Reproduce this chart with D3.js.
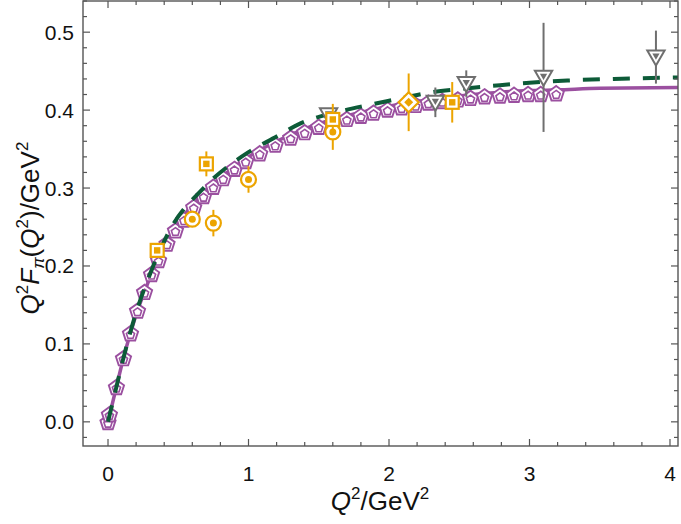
<!DOCTYPE html>
<html>
<head>
<meta charset="utf-8">
<script src="https://cdn.jsdelivr.net/npm/d3@7"></script>
<style>
  body { margin: 0; background: #fff; }
  svg { font-family: "Liberation Sans", Arial, sans-serif; }
</style>
</head>
<body>
<svg id="chart"></svg>
<script>
const width = 681;
const height = 524;

// purple solid curve
const purpleX = [0, 0.06, 0.11, 0.16, 0.21, 0.26, 0.31, 0.36, 0.44, 0.5, 0.6, 0.68, 0.8, 1.0, 1.2, 1.4, 1.6, 1.8, 2.0, 2.2, 2.4, 2.6, 2.8, 3.0, 3.2, 3.5, 4.1];
const purpleY = [0, 0.045, 0.082, 0.114, 0.143, 0.167, 0.19, 0.208, 0.238, 0.255, 0.278, 0.294, 0.313, 0.340, 0.360, 0.376, 0.388, 0.397, 0.405, 0.411, 0.416, 0.420, 0.423, 0.425, 0.426, 0.428, 0.429];

// green dashed curve
const greenX = [0, 0.06, 0.11, 0.2, 0.3, 0.44, 0.68, 1.0, 1.2, 1.37, 1.6, 1.84, 2.0, 2.31, 2.5, 2.79, 3.0, 3.27, 3.6, 4.1];
const greenY = [0, 0.045, 0.082, 0.14, 0.19, 0.246, 0.300, 0.346, 0.366, 0.383, 0.396, 0.406, 0.412, 0.423, 0.427, 0.432, 0.435, 0.438, 0.440, 0.442];

// pentagon markers
const pentX = [0, 0.01, 0.06, 0.11, 0.16, 0.21, 0.26, 0.31, 0.36, 0.42, 0.48, 0.54, 0.61, 0.68, 0.75, 0.82, 0.9, 0.98, 1.08, 1.19, 1.3, 1.4, 1.5, 1.6, 1.7, 1.8, 1.89, 1.99, 2.09, 2.19, 2.28, 2.38, 2.49, 2.58, 2.68, 2.79, 2.89, 2.99, 3.08, 3.19];
const pentY = [0, 0.01, 0.045, 0.082, 0.114, 0.143, 0.167, 0.19, 0.208, 0.229, 0.246, 0.26, 0.276, 0.29, 0.302, 0.313, 0.325, 0.335, 0.345, 0.356, 0.365, 0.372, 0.379, 0.384, 0.389, 0.393, 0.397, 0.401, 0.404, 0.407, 0.41, 0.412, 0.414, 0.416, 0.418, 0.419, 0.42, 0.421, 0.421, 0.422];

// orange circles
const circX = [0.6, 0.75, 1.0, 1.6];
const circY = [0.26, 0.255, 0.311, 0.372];
const circErr = [0.006, 0.017, 0.017, 0.023];

// orange squares
const sqX = [0.35, 0.7, 1.6, 2.45];
const sqY = [0.22, 0.331, 0.388, 0.41];
const sqErr = [0.005, 0.016, 0.02, 0.026];

// orange diamond
const diaX = [2.14];
const diaY = [0.41];
const diaErr = [0.037];

// grey triangles
const triX = [1.57, 2.33, 2.55, 3.1, 3.9];
const triY = [0.394, 0.41, 0.434, 0.442, 0.468];
const triErr = [0.004, 0.019, 0.017, 0.07, 0.034];

const xTicks = [0, 1, 2, 3, 4];
const yTicks = [0.0, 0.1, 0.2, 0.3, 0.4, 0.5];

const purple = "#9b50a0";
const green = "#0d5b38";
const orange = "#eca400";
const grey = "#6f6f6f";
const frameColor = "#555";

const svg = d3.select("#chart").attr("width", width).attr("height", height);

const x = d3.scaleLinear().domain([-0.178, 4.057]).range([83, 678]);
const y = d3.scaleLinear().domain([-0.031, 0.540]).range([446, 1]);

svg.append("clipPath").attr("id", "clip")
  .append("rect").attr("x", 83).attr("y", 1).attr("width", 595).attr("height", 445);

const plot = svg.append("g").attr("clip-path", "url(#clip)");

const line = d3.line().x(d => x(d[0])).y(d => y(d[1])).curve(d3.curveMonotoneX);

// purple line
plot.append("path")
  .attr("d", line(d3.zip(purpleX, purpleY)))
  .attr("fill", "none").attr("stroke", purple).attr("stroke-width", 3.5);

// pentagons
function polygon(cx, cy, r, n, rot) {
  const pts = d3.range(n).map(k => {
    const a = rot + k * 2 * Math.PI / n;
    return [cx + r * Math.cos(a), cy + r * Math.sin(a)];
  });
  return "M" + pts.map(p => p.join(",")).join("L") + "Z";
}

const pent = plot.selectAll(".pent").data(d3.zip(pentX, pentY)).enter().append("g");
pent.append("path")
  .attr("d", d => polygon(x(d[0]), y(d[1]) + 1, 8, 5, -Math.PI / 2))
  .attr("fill", "#fff").attr("stroke", purple).attr("stroke-width", 1.9);
pent.append("path")
  .attr("d", d => polygon(x(d[0]), y(d[1]) + 1.8, 4.3, 5, -Math.PI / 2))
  .attr("fill", "none").attr("stroke", purple).attr("stroke-width", 1.6);

// green dashed
plot.append("path")
  .attr("d", line(d3.zip(greenX, greenY)))
  .attr("fill", "none").attr("stroke", green).attr("stroke-width", 4)
  .attr("stroke-dasharray", "17,13");

// error bars + markers
function errorBars(xs, ys, es, color) {
  plot.selectAll(null).data(d3.range(xs.length)).enter().append("line")
    .attr("x1", i => x(xs[i])).attr("x2", i => x(xs[i]))
    .attr("y1", i => y(ys[i] - es[i])).attr("y2", i => y(ys[i] + es[i]))
    .attr("stroke", color).attr("stroke-width", 2);
}

// triangles
errorBars(triX, triY, triErr, grey);
const tri = plot.selectAll(null).data(d3.zip(triX, triY)).enter().append("g");
tri.append("path")
  .attr("d", d => polygon(x(d[0]), y(d[1]) - 1.5, 10, 3, Math.PI / 2))
  .attr("fill", "#fff").attr("stroke", grey).attr("stroke-width", 2);
tri.append("path")
  .attr("d", d => polygon(x(d[0]), y(d[1]) - 1.5, 4.2, 3, Math.PI / 2))
  .attr("fill", grey);

// circles
errorBars(circX, circY, circErr, orange);
const circ = plot.selectAll(null).data(d3.zip(circX, circY)).enter().append("g");
circ.append("circle").attr("cx", d => x(d[0])).attr("cy", d => y(d[1])).attr("r", 7.5)
  .attr("fill", "#fff").attr("stroke", orange).attr("stroke-width", 2.2);
circ.append("circle").attr("cx", d => x(d[0])).attr("cy", d => y(d[1])).attr("r", 3.5)
  .attr("fill", orange);

// squares
errorBars(sqX, sqY, sqErr, orange);
const sq = plot.selectAll(null).data(d3.zip(sqX, sqY)).enter().append("g");
sq.append("rect").attr("x", d => x(d[0]) - 6.5).attr("y", d => y(d[1]) - 6.5)
  .attr("width", 13).attr("height", 13)
  .attr("fill", "#fff").attr("stroke", orange).attr("stroke-width", 2.2);
sq.append("rect").attr("x", d => x(d[0]) - 3.2).attr("y", d => y(d[1]) - 3.2)
  .attr("width", 6.4).attr("height", 6.4).attr("fill", orange);

// diamond
errorBars(diaX, diaY, diaErr, orange);
const dia = plot.selectAll(null).data(d3.zip(diaX, diaY)).enter().append("g");
dia.append("path").attr("d", d => polygon(x(d[0]), y(d[1]), 10, 4, 0))
  .attr("fill", "#fff").attr("stroke", orange).attr("stroke-width", 2.2);
dia.append("path").attr("d", d => polygon(x(d[0]), y(d[1]), 4.5, 4, 0))
  .attr("fill", orange);

// frame and ticks
const xMinor = d3.range(-0.0, 4.05, 0.2);
const yMinor = d3.range(-0.02, 0.541, 0.02);

const axes = svg.append("g").attr("stroke", frameColor);
axes.append("rect").attr("x", 83).attr("y", 1).attr("width", 595).attr("height", 445)
  .attr("fill", "none").attr("stroke-width", 1.4);

xMinor.forEach(v => {
  const major = Math.abs(v - Math.round(v)) < 1e-6;
  const len = major ? 7 : 4;
  axes.append("line").attr("x1", x(v)).attr("x2", x(v)).attr("y1", 446).attr("y2", 446 - len).attr("stroke-width", 1.2);
  axes.append("line").attr("x1", x(v)).attr("x2", x(v)).attr("y1", 1).attr("y2", 1 + len).attr("stroke-width", 1.2);
});
yMinor.forEach(v => {
  const major = Math.abs(v * 10 - Math.round(v * 10)) < 1e-6;
  const len = major ? 7 : 4;
  axes.append("line").attr("x1", 83).attr("x2", 83 + len).attr("y1", y(v)).attr("y2", y(v)).attr("stroke-width", 1.2);
  axes.append("line").attr("x1", 678).attr("x2", 678 - len).attr("y1", y(v)).attr("y2", y(v)).attr("stroke-width", 1.2);
});

svg.selectAll(".xt").data(xTicks).enter().append("text")
  .attr("x", d => x(d)).attr("y", 481)
  .attr("text-anchor", "middle").attr("font-size", 21).attr("fill", "#111")
  .text(d => d);

svg.selectAll(".yt").data(yTicks).enter().append("text")
  .attr("x", 74).attr("y", d => y(d) + 7.5)
  .attr("text-anchor", "end").attr("font-size", 21).attr("fill", "#111")
  .text(d => d3.format(".1f")(d));

// axis titles
const xl = svg.append("text").attr("x", 380).attr("y", 510)
  .attr("text-anchor", "middle").attr("font-size", 26).attr("fill", "#111");
xl.append("tspan").attr("font-style", "italic").text("Q");
xl.append("tspan").attr("font-size", 17).attr("dy", -11).text("2");
xl.append("tspan").attr("dy", 11).text("/GeV");
xl.append("tspan").attr("font-size", 17).attr("dy", -11).text("2");

const yl = svg.append("text").attr("transform", "translate(39,228) rotate(-90)")
  .attr("text-anchor", "middle").attr("font-size", 26).attr("fill", "#111");
yl.append("tspan").attr("font-style", "italic").text("Q");
yl.append("tspan").attr("font-size", 17).attr("dy", -11).text("2");
yl.append("tspan").attr("font-style", "italic").attr("dy", 11).text("F");
yl.append("tspan").attr("font-style", "italic").attr("font-size", 17).attr("dy", 5).text("π");
yl.append("tspan").attr("dy", -5).text("(");
yl.append("tspan").attr("font-style", "italic").text("Q");
yl.append("tspan").attr("font-size", 17).attr("dy", -11).text("2");
yl.append("tspan").attr("dy", 11).text(")/GeV");
yl.append("tspan").attr("font-size", 17).attr("dy", -11).text("2");
</script>
</body>
</html>
